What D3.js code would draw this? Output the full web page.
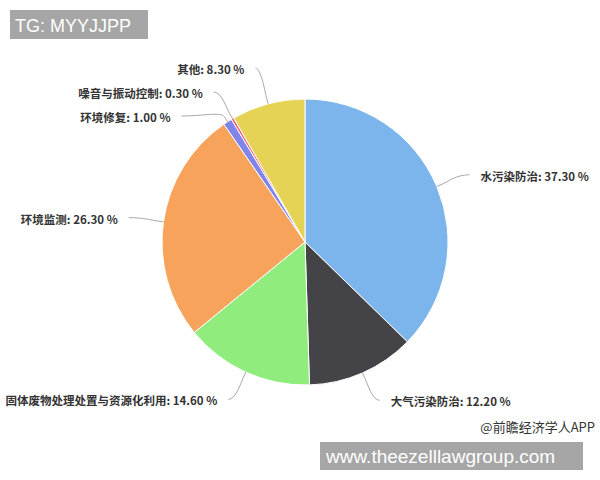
<!DOCTYPE html>
<html>
<head>
<meta charset="utf-8">
<script src="https://cdn.jsdelivr.net/npm/d3@7"></script>
<style>
html,body{margin:0;padding:0;background:#fff;}
</style>
</head>
<body>
<svg id="chart" width="600" height="480"></svg>
<script>
const categories = ['水污染防治','大气污染防治','固体废物处理处置与资源化利用','环境监测','环境修复','噪音与振动控制','其他'];
const values = [37.3, 12.2, 14.6, 26.3, 1.0, 0.3, 8.3];
const colors = ['#7cb5ec','#434348','#90ed7d','#f7a35c','#8085e9','#f15c80','#e4d354'];
const topTag = 'TG: MYYJJPP';
const bottomTag = 'www.theezelllawgroup.com';
const sourceText = '@前瞻经济学人APP';

const W = 600, H = 480;
const cx = 305, cy = 242, r = 143, dist = 30, R = r + dist;
const gap = 24, minY = 68, pad = 5, textGap = 11;

const svg = d3.select('#chart');
svg.append('rect').attr('width', W).attr('height', H).attr('fill', '#fff');

const pie = d3.pie().sort(null).value(d => d);
const arcs = pie(values);
const arc = d3.arc().innerRadius(0).outerRadius(r);

const g = svg.append('g').attr('transform', `translate(${cx},${cy})`);
g.selectAll('path.slice').data(arcs).join('path')
  .attr('class', 'slice')
  .attr('d', arc)
  .attr('fill', (d, i) => colors[i])
  .attr('stroke', '#fff')
  .attr('stroke-width', 1)
  .attr('stroke-linejoin', 'round');

// label layout
const items = arcs.map((a, i) => {
  const m = (a.startAngle + a.endAngle) / 2;
  return { i, m, right: m < Math.PI, ny: cy - R * Math.cos(m) };
});

function distribute(list) {
  list.sort((a, b) => a.ny - b.ny);
  let clusters = list.map(d => ({ m: [d] }));
  const place = c => {
    const n = c.m.length;
    const mean = d3.mean(c.m, d => d.ny);
    c.top = Math.max(minY, mean - (n - 1) * gap / 2);
  };
  clusters.forEach(place);
  let merged = true;
  while (merged) {
    merged = false;
    for (let k = 0; k < clusters.length - 1; k++) {
      const a = clusters[k], b = clusters[k + 1];
      if (a.top + a.m.length * gap > b.top) {
        a.m = a.m.concat(b.m);
        place(a);
        clusters.splice(k + 1, 1);
        merged = true;
        break;
      }
    }
  }
  clusters.forEach(c => c.m.forEach((d, j) => { d.y = c.top + j * gap; }));
  list.forEach((d, j) => {
    const yy = (j === 0 || j === list.length - 1) ? d.ny : d.y;
    const dy = Math.max(-1, Math.min(1, (yy - cy) / R));
    const dx = Math.cos(Math.asin(dy)) * R + pad;
    d.x = d.right ? cx + dx : cx - dx;
  });
}
distribute(items.filter(d => d.right));
distribute(items.filter(d => !d.right));

const fmt = d3.format('.2f');
const lab = svg.append('g');
items.forEach(d => {
  const s = Math.sin(d.m), c = -Math.cos(d.m);
  const T = [cx + r * s, cy + r * c];
  const B = [cx + (r + 6) * s, cy + (r + 6) * c];
  const c1 = [d.x + (B[0] - d.x) * 0.5, d.y];
  const c2 = [2 * B[0] - T[0], 2 * B[1] - T[1]];
  lab.append('path')
    .attr('d', `M${d.x},${d.y}C${c1[0]},${c1[1]} ${c2[0]},${c2[1]} ${B[0]},${B[1]}L${T[0]},${T[1]}`)
    .attr('fill', 'none')
    .attr('stroke', '#a8a8a8')
    .attr('stroke-width', 1);
  lab.append('text')
    .attr('x', d.right ? d.x + textGap : d.x - textGap)
    .attr('y', d.y + 1)
    .attr('text-anchor', d.right ? 'start' : 'end')
    .attr('dominant-baseline', 'central')
    .attr('font-family', '"Noto Sans CJK SC", "Noto Sans", sans-serif')
    .attr('font-weight', 'bold')
    .attr('font-size', 11.5)
    .attr('fill', '#333')
    .text(`${categories[d.i]}: ${fmt(values[d.i])} %`);
});

// source
svg.append('text')
  .attr('x', 595).attr('y', 426)
  .attr('text-anchor', 'end')
  .attr('dominant-baseline', 'central')
  .attr('font-family', '"Noto Sans CJK SC", sans-serif')
  .attr('font-size', 13)
  .attr('fill', '#333')
  .text(sourceText);

// banners
svg.append('rect').attr('x', 10).attr('y', 10).attr('width', 138).attr('height', 29).attr('fill', '#a6a6a6');
svg.append('text').attr('x', 15).attr('y', 31.5)
  .attr('font-family', '"Liberation Sans", Arial, sans-serif')
  .attr('font-size', 18).attr('fill', '#fff').text(topTag);

svg.append('rect').attr('x', 320).attr('y', 442).attr('width', 263).attr('height', 28).attr('fill', '#a6a6a6');
svg.append('text').attr('x', 326).attr('y', 462.5)
  .attr('font-family', '"Liberation Sans", Arial, sans-serif')
  .attr('font-size', 19).attr('fill', '#fff').text(bottomTag);
</script>
</body>
</html>
